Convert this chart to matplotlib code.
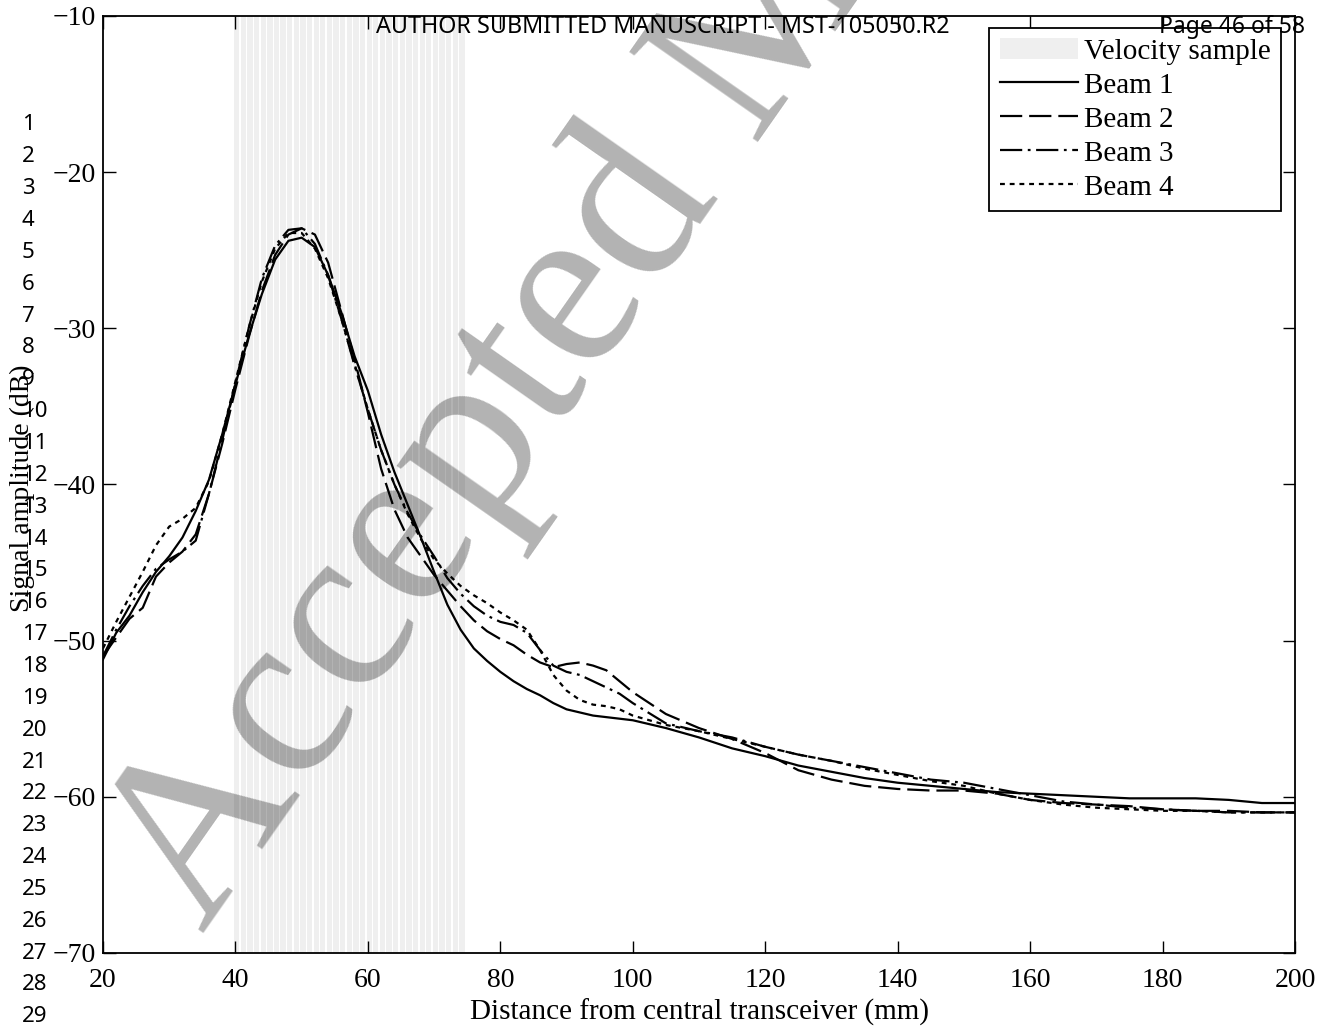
import numpy as np
import matplotlib
matplotlib.use("Agg")
import matplotlib.pyplot as plt

plt.rcParams['lines.scale_dashes'] = False
plt.rcParams['font.family'] = ['Liberation Serif', 'DejaVu Serif']

# distance from central transceiver (mm)
dist = [20, 22, 24, 26, 28, 30, 32, 34, 36, 38, 40, 42, 44, 46, 48, 50, 52, 54, 56, 58,
        60, 62, 64, 66, 68, 70, 72, 74, 76, 78, 80, 82, 84, 86, 88, 90, 92, 94, 96, 98,
        100, 105, 110, 115, 120, 125, 130, 135, 140, 145, 150, 155, 160, 165, 170, 175,
        180, 185, 190, 195, 200]

beam1 = [-51.2, -49.5, -48.4, -46.9, -45.6, -44.6, -43.4, -41.7, -39.7, -36.8,
         -33.6, -30.5, -27.8, -25.6, -24.4, -24.2, -24.8, -26.6, -29.0, -31.8,
         -34.0, -36.8, -39.2, -41.3, -43.4, -45.6, -47.7, -49.3, -50.5, -51.3,
         -52.0, -52.6, -53.1, -53.5, -54.0, -54.4, -54.6, -54.8, -54.9, -55.0,
         -55.1, -55.6, -56.2, -56.9, -57.4, -58.0, -58.4, -58.8, -59.1, -59.3,
         -59.5, -59.7, -59.8, -59.9, -60.0, -60.1, -60.1, -60.1, -60.2, -60.4, -60.4]

beam2 = [-51.0, -49.8, -48.6, -47.9, -45.9, -45.0, -44.3, -43.2, -40.6, -37.4,
         -33.9, -30.6, -27.6, -25.3, -24.0, -23.6, -24.0, -25.8, -28.9, -32.0,
         -35.4, -39.0, -41.6, -43.4, -44.6, -45.8, -46.8, -47.8, -48.7, -49.4,
         -49.9, -50.3, -50.9, -51.4, -51.7, -51.5, -51.4, -51.6, -51.9, -52.6,
         -53.3, -54.7, -55.6, -56.3, -57.2, -58.3, -58.9, -59.3, -59.5, -59.6,
         -59.6, -59.8, -60.2, -60.4, -60.5, -60.6, -60.8, -60.9, -60.9, -61.0, -61.0]

beam3 = [-51.0, -49.3, -47.8, -46.5, -45.4, -44.8, -44.3, -43.6, -40.6, -37.2,
         -33.5, -30.0, -26.8, -24.7, -23.7, -23.6, -24.6, -26.6, -29.4, -32.4,
         -35.2, -37.8, -40.0, -41.8, -43.3, -44.6, -46.0, -47.0, -47.8, -48.4,
         -48.8, -49.0, -49.5, -50.6, -51.6, -52.0, -52.2, -52.6, -53.0, -53.4,
         -54.0, -55.3, -55.8, -56.2, -56.8, -57.3, -57.7, -58.1, -58.5, -58.9,
         -59.1, -59.5, -59.9, -60.3, -60.5, -60.7, -60.8, -60.9, -61.0, -61.0, -61.0]

beam4 = [-50.5, -48.8, -47.2, -45.6, -43.9, -42.7, -42.2, -41.5, -39.8, -36.8,
         -33.4, -30.0, -27.0, -24.9, -23.9, -23.9, -24.9, -26.8, -29.4, -32.3,
         -35.2, -37.8, -40.0, -41.9, -43.5, -44.8, -45.7, -46.5, -47.1, -47.6,
         -48.2, -48.7, -49.3, -50.6, -52.2, -53.2, -53.8, -54.1, -54.2, -54.4,
         -54.8, -55.4, -55.8, -56.3, -56.8, -57.3, -57.7, -58.2, -58.6, -59.0,
         -59.3, -59.8, -60.2, -60.5, -60.7, -60.8, -60.9, -60.9, -61.0, -61.0, -61.0]

# velocity sample bins (mm)
sample_start = 39.8
sample_end = 74.7
sample_step = 1.0

sans = 'Noto Sans'

fig = plt.figure(figsize=(13.22, 10.27), dpi=100)
ax = fig.add_axes([0.0779, 0.0721, 0.9017, 0.9124])

# shaded sample volume made of thin strips
lefts = np.arange(sample_start, sample_end, sample_step)
for i, l in enumerate(lefts):
    ax.axvspan(l, min(l + sample_step * 0.8, sample_end), color='#efefef', lw=0, zorder=0.5,
               label='Velocity sample' if i == 0 else None)

lw = 1.6
ax.plot(dist, beam1, color='black', lw=lw, ls='-', label='Beam 1', zorder=3)
ax.plot(dist, beam2, color='black', lw=lw, dashes=(16, 5), label='Beam 2', zorder=3)
ax.plot(dist, beam3, color='black', lw=lw, dashes=(16, 4, 2, 4), label='Beam 3', zorder=3)
ax.plot(dist, beam4, color='black', lw=lw, dashes=(3.5, 3.5), label='Beam 4', zorder=3)

ax.set_xlim(20, 200)
ax.set_ylim(-70, -10)
ax.set_xticks(np.arange(20, 201, 20))
ax.set_yticks(np.arange(-70, -9, 10))
ax.tick_params(direction='in', length=9, width=1, top=True, right=True, labelsize=20)
ax.tick_params(axis='x', pad=11)
ax.tick_params(axis='y', pad=5)
for s in ax.spines.values():
    s.set_linewidth(1.3)

ax.set_xlabel('Distance from central transceiver (mm)', fontsize=21, labelpad=4)

leg = ax.legend(loc='upper right', bbox_to_anchor=(0.9883, 0.9872), fancybox=False,
                framealpha=1, edgecolor='black', prop={'size': 21},
                handlelength=2.7, handletextpad=0.2, labelspacing=0.26,
                borderpad=0.35, borderaxespad=0)
leg.get_frame().set_linewidth(1.3)
leg.set_zorder(10)

# watermark
ax.text(0.154, 0.090, 'Accepted Manuscript', transform=fig.transFigure, rotation=55,
        rotation_mode='anchor', ha='left', va='baseline', fontsize=172,
        color='black', alpha=0.3, zorder=1, clip_on=False)

fig.text(22 / 1322, 1 - 488 / 1027, 'Signal amplitude (dB)', rotation=90,
         ha='center', va='center', fontsize=20)

# manuscript header and line numbers
fig.text(663 / 1322, 1 - 27 / 1027, 'AUTHOR SUBMITTED MANUSCRIPT - MST-105050.R2',
         ha='center', va='center', fontsize=16.8, family=sans)
fig.text(1305 / 1322, 1 - 27 / 1027, 'Page 46 of 58', ha='right', va='center',
         fontsize=16.5, family=sans)
for n in range(1, 30):
    fig.text(22 / 1322, 1 - (125 + (n - 1) * 31.85) / 1027, str(n), ha='left',
             va='center', fontsize=16, family=sans)

fig.savefig('out.png', dpi=100)
